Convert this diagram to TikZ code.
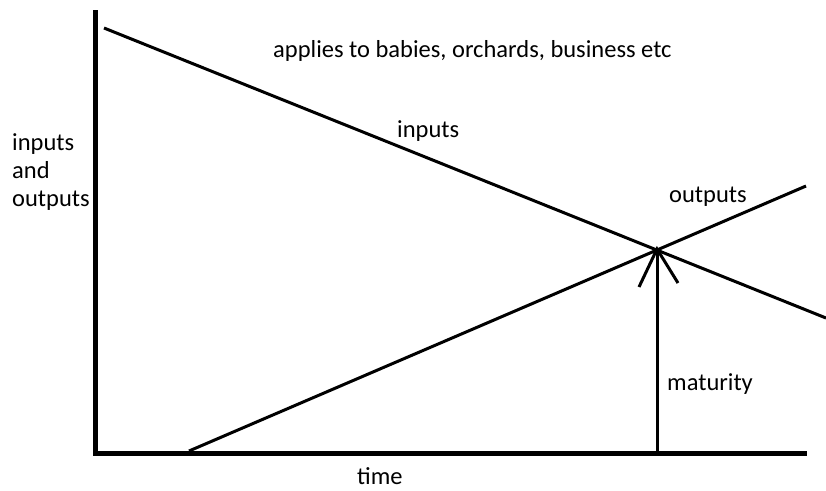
\documentclass[tikz,border=0pt]{standalone}
\usepackage{fontspec}
\setmainfont{Carlito}
\usetikzlibrary{positioning}

\begin{document}
\begin{tikzpicture}[x=1pt, y=-1pt, every node/.style={font=\fontsize{24.5}{28}\selectfont, inner sep=0pt, anchor=base west},
  axis/.style={line width=5pt}, curve/.style={line width=3pt}]
\useasboundingbox (0,0) rectangle (826,490);
% axes
\coordinate (top) at (95.5,10);
\coordinate (origin) at (95.5,453.5);
\coordinate (right) at (807,453.5);
\draw[axis] (top) -- (95.5,456);
\draw[axis] (93,453.5) -- (right);
% lines
\coordinate (in0) at (104,28);
\coordinate (in1) at (826,318);
\coordinate (out0) at (189,451);
\coordinate (out1) at (806,186);
\coordinate (meet) at (657,249);
\draw[curve] (in0) -- (in1);
\draw[curve] (out0) -- (out1);
% maturity arrow
\coordinate (foot) at (657,451);
\coordinate (barbL) at (639,287);
\coordinate (barbR) at (678,283);
\draw[curve] (foot) -- (meet);
\draw[curve] (barbL) -- (meet) -- (barbR);
% labels
\node (title) at (273,57) {applies to babies, orchards, business etc};
\node (inlab) at (397,137) {inputs};
\node (outlab) at (669,202) {outputs};
\node (matlab) at (667,390) {maturity};
\node (timelab) at (357,484) {time};
\node[align=left, anchor=north west] (ylab) at (12,133) {inputs\\and\\outputs};
\end{tikzpicture}
\end{document}
